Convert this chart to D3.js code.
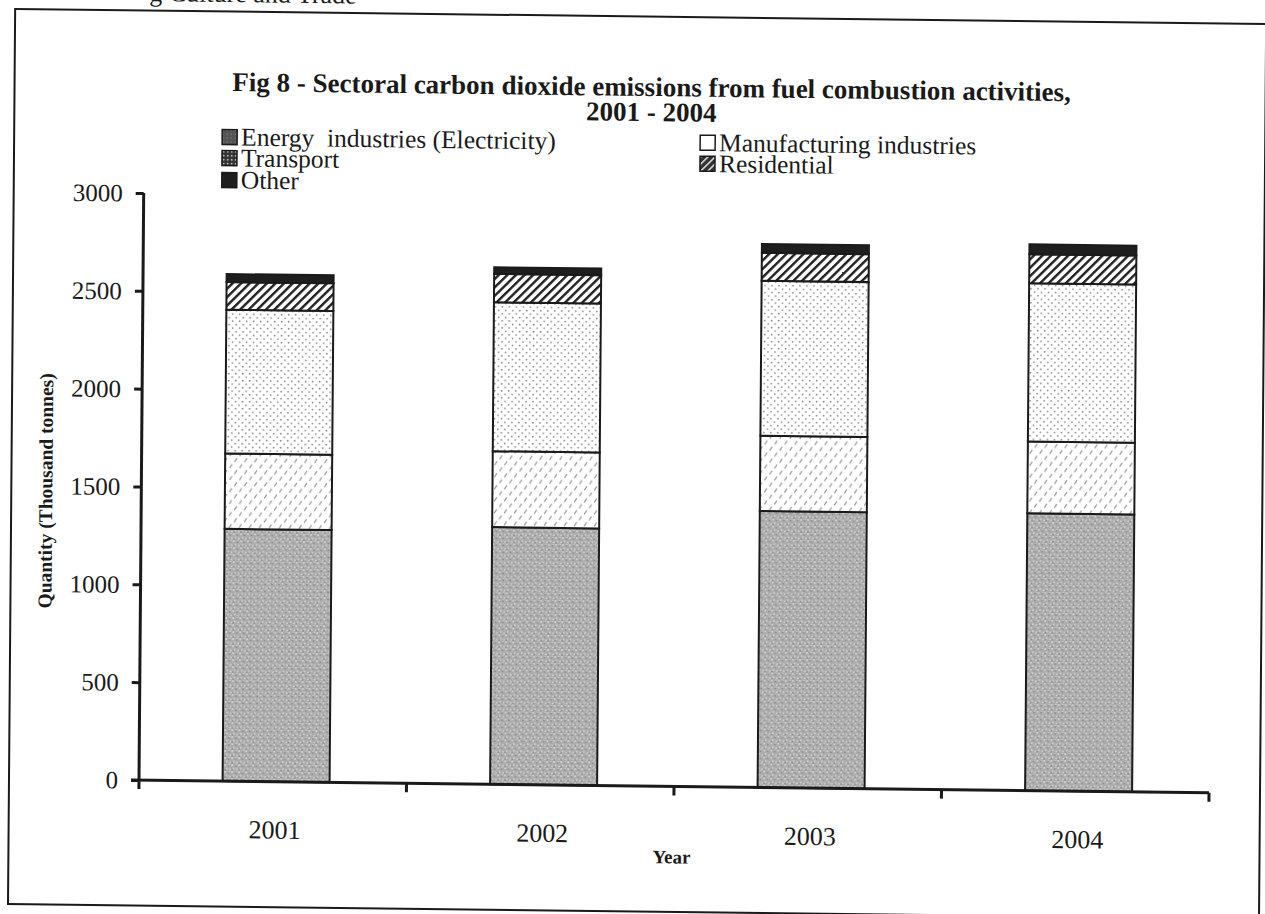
<!DOCTYPE html>
<html>
<head>
<meta charset="utf-8">
<script src="https://cdn.jsdelivr.net/npm/d3@7"></script>
<style>
  html, body { margin: 0; padding: 0; background: #ffffff; }
  svg { display: block; }
  text { font-family: "Liberation Serif", "Times New Roman", serif; fill: #1a1a1a; white-space: pre; }
</style>
</head>
<body>
<div id="chart"></div>
<script>
// ---------------- data ----------------
const years = ["2001", "2002", "2003", "2004"];
const seriesNames = ["Energy  industries (Electricity)", "Transport", "Manufacturing industries", "Residential", "Other"];
const seriesKeys = ["energy", "transport", "manufacturing", "residential", "other"];
const energy = [1289, 1314, 1413, 1418];
const transport = [385, 388, 385, 366];
const manufacturing = [735, 761, 791, 809];
const residential = [141, 145, 143, 148];
const other = [41, 34, 45, 51];
const yTicks = [0, 500, 1000, 1500, 2000, 2500, 3000];
const titleLines = ["Fig 8 - Sectoral carbon dioxide emissions from fuel combustion activities,", "2001 - 2004"];
const yTitle = "Quantity (Thousand tonnes)";
const xTitle = "Year";
const headerFragment = "g Culture and Trade";

// table for d3.stack
const table = years.map((y, i) => ({
  year: y, energy: energy[i], transport: transport[i], manufacturing: manufacturing[i],
  residential: residential[i], other: other[i]
}));

// ---------------- layout ----------------
const W = 1265, H = 914;
const axisX = 139, baseY = 780, topY = 193, rightX = 1209;

const svg = d3.select("#chart").append("svg").attr("width", W).attr("height", H);
svg.append("rect").attr("width", W).attr("height", H).attr("fill", "#fff");

const defs = svg.append("defs");
// energy: gray stipple
const pE = defs.append("pattern").attr("id", "pEnergy").attr("patternUnits", "userSpaceOnUse").attr("width", 7).attr("height", 7);
pE.append("rect").attr("width", 7).attr("height", 7).attr("fill", "#acacac");
[[1,1,"#d6d6d6"],[4.5,2,"#8a8a8a"],[2.5,4.5,"#cfcfcf"],[6,5.5,"#d2d2d2"],[1,6,"#909090"],[5,0.2,"#c8c8c8"]].forEach(d =>
  pE.append("circle").attr("cx", d[0]).attr("cy", d[1]).attr("r", 0.9).attr("fill", d[2]));
// transport: white with short gray slashes
const pT = defs.append("pattern").attr("id", "pTransport").attr("patternUnits", "userSpaceOnUse").attr("width", 10).attr("height", 12);
pT.append("rect").attr("width", 10).attr("height", 12).attr("fill", "#fff");
pT.append("path").attr("d", "M2,5 L4.5,1 M7,11 L9.5,7").attr("stroke", "#9a9a9a").attr("stroke-width", 1.2);
// manufacturing: white with gray dots
const pM = defs.append("pattern").attr("id", "pManu").attr("patternUnits", "userSpaceOnUse").attr("width", 7).attr("height", 7);
pM.append("rect").attr("width", 7).attr("height", 7).attr("fill", "#fff");
pM.append("circle").attr("cx", 1.5).attr("cy", 1.5).attr("r", 0.9).attr("fill", "#8a8a8a");
pM.append("circle").attr("cx", 5).attr("cy", 5).attr("r", 0.9).attr("fill", "#8a8a8a");
// residential: diagonal hatch
const pR = defs.append("pattern").attr("id", "pRes").attr("patternUnits", "userSpaceOnUse").attr("width", 6).attr("height", 6)
  .attr("patternTransform", "rotate(45)");
pR.append("rect").attr("width", 6).attr("height", 6).attr("fill", "#fff");
pR.append("rect").attr("x", 0).attr("width", 2.4).attr("height", 6).attr("fill", "#222");
// legend variants
const lE = defs.append("pattern").attr("id", "lEnergy").attr("patternUnits", "userSpaceOnUse").attr("width", 4).attr("height", 4);
lE.append("rect").attr("width", 4).attr("height", 4).attr("fill", "#555");
lE.append("circle").attr("cx", 1).attr("cy", 1).attr("r", 0.6).attr("fill", "#888");
const lT = defs.append("pattern").attr("id", "lTransport").attr("patternUnits", "userSpaceOnUse").attr("width", 4).attr("height", 4);
lT.append("rect").attr("width", 4).attr("height", 4).attr("fill", "#333");
lT.append("rect").attr("x", 1).attr("y", 1).attr("width", 1.5).attr("height", 1.5).attr("fill", "#eee");
const lR = defs.append("pattern").attr("id", "lRes").attr("patternUnits", "userSpaceOnUse").attr("width", 5).attr("height", 5)
  .attr("patternTransform", "rotate(45)");
lR.append("rect").attr("width", 5).attr("height", 5).attr("fill", "#333");
lR.append("rect").attr("width", 1.4).attr("height", 5).attr("fill", "#eee");

const fills = { energy: "url(#pEnergy)", transport: "url(#pTransport)", manufacturing: "url(#pManu)", residential: "url(#pRes)", other: "#1e1e1e" };
const legendFills = { energy: "url(#lEnergy)", transport: "url(#lTransport)", manufacturing: "#fff", residential: "url(#lRes)", other: "#1e1e1e" };

// slight skew, like the scanned page
const g = svg.append("g").attr("transform",
  `matrix(1,0.012,-0.008,1,${0.008 * baseY},${-0.012 * axisX})`);

// page header fragment (cut off at top of the page)
g.append("text").attr("x", 143).attr("y", 1).attr("font-size", 26).text(headerFragment);

// frame
g.append("rect").attr("x", 9).attr("y", 10.5).attr("width", 1251).attr("height", 895)
  .attr("fill", "none").attr("stroke", "#1a1a1a").attr("stroke-width", 2);

// scales
const x = d3.scaleBand().domain(years).range([axisX, rightX]);
const y = d3.scaleLinear().domain([0, 3000]).range([baseY, topY]);
const barOff = x.bandwidth() * 0.3125, barW = x.bandwidth() * 0.4;

// bars
const stack = d3.stack().keys(seriesKeys)(table);
const layers = g.append("g").selectAll("g").data(stack).join("g")
  .attr("fill", d => fills[d.key]);
layers.selectAll("rect").data(d => d).join("rect")
  .attr("x", d => x(d.data.year) + barOff)
  .attr("width", barW)
  .attr("y", d => y(d[1]))
  .attr("height", d => y(d[0]) - y(d[1]))
  .attr("stroke", "#1a1a1a").attr("stroke-width", 2);

// y axis
const yAxis = g.append("g").attr("transform", `translate(${axisX},0)`)
  .call(d3.axisLeft(y).tickValues(yTicks).tickSize(8).tickPadding(13).tickFormat(d3.format("d")));
yAxis.select(".domain").attr("stroke", "#1a1a1a").attr("stroke-width", 3).attr("d", `M0,${topY}V${baseY}`);
yAxis.selectAll(".tick line").attr("stroke", "#1a1a1a").attr("stroke-width", 3);
yAxis.selectAll(".tick text").attr("font-size", 25).attr("fill", "#1a1a1a")
  .attr("font-family", "Liberation Serif, serif").attr("dy", "0.33em");

// x axis with ticks at band edges
const xAxisG = g.append("g").attr("transform", `translate(0,${baseY})`);
xAxisG.append("path").attr("d", `M${axisX - 8},0H${rightX}`).attr("stroke", "#1a1a1a").attr("stroke-width", 3).attr("fill", "none");
const edges = years.map(d => x(d)).concat([x(years[years.length - 1]) + x.bandwidth()]);
xAxisG.selectAll("line.edge").data(edges).join("line").attr("class", "edge")
  .attr("x1", d => d).attr("x2", d => d).attr("y1", 0).attr("y2", 9)
  .attr("stroke", "#1a1a1a").attr("stroke-width", 3);
xAxisG.selectAll("text.cat").data(years).join("text").attr("class", "cat")
  .attr("x", d => x(d) + barOff + barW / 2 - 1).attr("y", 57)
  .attr("text-anchor", "middle").attr("font-size", 26).text(d => d);

// axis titles
g.append("text").attr("x", 672).attr("y", 857).attr("text-anchor", "middle")
  .attr("font-size", 19).attr("font-weight", "bold").text(xTitle);
g.append("text").attr("transform", "translate(50,492) rotate(-90)").attr("text-anchor", "middle")
  .attr("font-size", 19.5).attr("font-weight", "bold").text(yTitle);

// title
g.selectAll("text.title").data(titleLines).join("text").attr("class", "title")
  .attr("x", 646).attr("y", (d, i) => 90 + i * 25).attr("text-anchor", "middle")
  .attr("font-size", 27).attr("font-weight", "bold").text(d => d);

// legend
const legendPos = [
  { key: "energy", x: 217, y: 136 },
  { key: "transport", x: 217, y: 157 },
  { key: "other", x: 217, y: 179 },
  { key: "manufacturing", x: 695, y: 136 },
  { key: "residential", x: 695, y: 157 }
];
const leg = g.append("g").selectAll("g").data(legendPos).join("g")
  .attr("transform", d => `translate(${d.x},${d.y})`);
leg.append("rect").attr("x", 0).attr("y", -7.5).attr("width", 15).attr("height", 15)
  .attr("fill", d => legendFills[d.key]).attr("stroke", "#1a1a1a").attr("stroke-width", 1.5);
leg.append("text").attr("x", 19).attr("y", 0).attr("dy", "0.33em").attr("font-size", 25.5)
  .text(d => seriesNames[seriesKeys.indexOf(d.key)]);
</script>
</body>
</html>
